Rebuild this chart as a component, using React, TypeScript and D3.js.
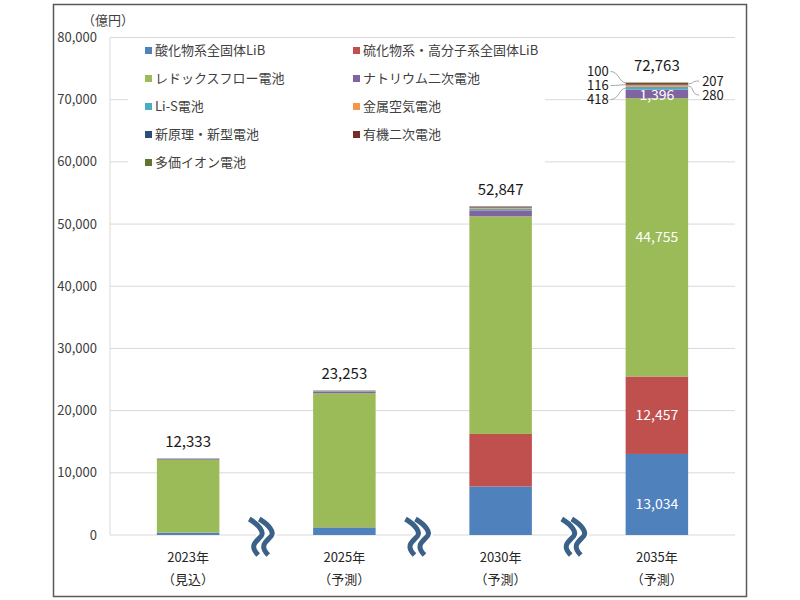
import React from "react";
import * as d3 from "d3";

const categories = ["2023年", "2025年", "2030年", "2035年"];
const subLabels = ["（見込）", "（予測）", "（予測）", "（予測）"];
const totals = [12333, 23253, 52847, 72763];

const seriesNames = [
  "酸化物系全固体LiB",
  "硫化物系・高分子系全固体LiB",
  "レドックスフロー電池",
  "ナトリウム二次電池",
  "Li-S電池",
  "金属空気電池",
  "新原理・新型電池",
  "有機二次電池",
  "多価イオン電池",
];
const oxide = [380, 1200, 7800, 13034];
const sulfide = [0, 50, 8450, 12457];
const redox = [11680, 21550, 35000, 44755];
const sodium = [120, 280, 950, 1396];
const lis = [70, 80, 250, 418];
const metalAir = [50, 50, 170, 280];
const newType = [10, 13, 80, 116];
const organic = [15, 20, 100, 207];
const multivalent = [8, 10, 47, 100];
const seriesValues = [oxide, sulfide, redox, sodium, lis, metalAir, newType, organic, multivalent];
const colors = ["#4F81BD", "#C0504D", "#9BBB59", "#8064A2", "#4BACC6", "#F79646", "#2C4D75", "#772C2A", "#5F7530"];
const yTicks = [0, 10000, 20000, 30000, 40000, 50000, 60000, 70000, 80000];

const FONT = "'Noto Sans CJK JP', 'Noto Sans', sans-serif";

export default function App() {
  const x = d3.scaleBand<string>().domain(categories).range([110, 735]).paddingInner(0.6).paddingOuter(0.3);
  const y = d3.scaleLinear().domain([0, 80000]).range([535, 37.5]);
  const fmt = d3.format(",");

  const rows = categories.map((c, i) => {
    const r: any = { cat: c };
    seriesNames.forEach((s, k) => (r[s] = seriesValues[k][i]));
    return r;
  });
  const stacked = d3.stack<any>().keys(seriesNames)(rows);
  const bw = x.bandwidth();

  const last = categories.length - 1;
  const lastX = x(categories[last])!;
  const sideLabels = [
    { k: 4, side: "L", ly: 99.5 },
    { k: 5, side: "R", ly: 95 },
    { k: 6, side: "L", ly: 85.5 },
    { k: 7, side: "R", ly: 81 },
    { k: 8, side: "L", ly: 71.5 },
  ];

  const chevron = (cx: number, cy: number) => {
    const one = (ox: number) =>
      `M${ox - 8},${cy - 18} C${ox + 2},${cy - 12} ${ox + 7},${cy - 5} ${ox + 4},${cy - 1} C${ox},${cy + 4} ${ox - 9},${cy + 8} ${ox + 1},${cy + 18}`;
    return (
      <g>
        <path d={one(cx - 5)} fill="none" stroke="#fff" strokeWidth={9} />
        <path d={one(cx + 5)} fill="none" stroke="#fff" strokeWidth={9} />
        <path d={one(cx - 5)} fill="none" stroke="#3B6189" strokeWidth={5} />
        <path d={one(cx + 5)} fill="none" stroke="#3B6189" strokeWidth={5} />
      </g>
    );
  };

  return (
    <svg width={800} height={600} style={{ position: "absolute", left: 0, top: 0, background: "#fff" }} fontFamily={FONT}>
      <rect x={0} y={0} width={800} height={600} fill="#fff" />
      <rect x={53.5} y={4.5} width={693} height={592} fill="#fff" stroke="#595959" strokeWidth={1.5} />

      {yTicks.map((t) => (
        <line key={t} x1={110} x2={735} y1={y(t)} y2={y(t)} stroke="#D9D9D9" strokeWidth={1} />
      ))}
      <line x1={110} x2={110} y1={y(80000)} y2={y(0)} stroke="#D9D9D9" strokeWidth={1} />
      {yTicks.map((t) => (
        <text key={t} x={97} y={y(t)} dy="0.35em" textAnchor="end" fontSize={13} fill="#404040">
          {fmt(t)}
        </text>
      ))}
      <text x={108} y={20} dy="0.35em" textAnchor="middle" fontSize={13} fill="#404040">
        （億円）
      </text>

      <rect x={128} y={40} width={417} height={132} fill="#fff" />
      {seriesNames.map((s, k) => {
        const col = k % 2;
        const row = Math.floor(k / 2);
        const lx = col === 0 ? 145 : 353;
        const ly = 50.5 + row * 28;
        return (
          <g key={s}>
            <rect x={lx} y={ly - 3.5} width={7} height={7} fill={colors[k]} />
            <text x={lx + 10} y={ly} dy="0.35em" fontSize={13} fill="#404040">
              {s}
            </text>
          </g>
        );
      })}

      {stacked.map((layer, k) => (
        <g key={k} fill={colors[k]}>
          {layer.map((d, i) => (
            <rect key={i} x={x(categories[i])} width={bw} y={y(d[1])} height={Math.max(0, y(d[0]) - y(d[1]))} />
          ))}
        </g>
      ))}

      {totals.map((t, i) => (
        <text key={i} x={x(categories[i])! + bw / 2} y={y(t) - 17} dy="0.35em" textAnchor="middle" fontSize={15} fill="#1a1a1a">
          {fmt(t)}
        </text>
      ))}

      {[0, 1, 2, 3].map((k) => {
        const d = stacked[k][last];
        const cy = (y(d[0]) + y(d[1])) / 2 + (k === 0 ? 10 : k === 3 ? 1 : 0);
        return (
          <text key={k} x={lastX + bw / 2} y={cy} dy="0.35em" textAnchor="middle" fontSize={14} fill="#fff">
            {fmt(seriesValues[k][last])}
          </text>
        );
      })}

      {sideLabels.map(({ k, side, ly }) => {
        const d = stacked[k][last];
        const sy = (y(d[0]) + y(d[1])) / 2;
        const isL = side === "L";
        const ex = isL ? lastX : lastX + bw;
        const tx = isL ? lastX - 17 : lastX + bw + 14;
        const lx0 = isL ? tx + 2 : tx - 3;
        const path = isL
          ? `M${lx0},${ly} C${lx0 + 8},${ly} ${ex - 6},${sy} ${ex},${sy}`
          : `M${lx0},${ly} C${lx0 - 8},${ly} ${ex + 6},${sy} ${ex},${sy}`;
        return (
          <g key={k}>
            <path d={path} fill="none" stroke="#A6A6A6" strokeWidth={1} />
            <text x={tx} y={ly} dy="0.35em" textAnchor={isL ? "end" : "start"} fontSize={13} fill="#1a1a1a">
              {fmt(seriesValues[k][last])}
            </text>
          </g>
        );
      })}

      {categories.map((c, i) => (
        <g key={c}>
          <text x={x(c)! + bw / 2} y={557} dy="0.35em" textAnchor="middle" fontSize={13} fill="#262626">
            {c}
          </text>
          <text x={x(c)! + bw / 2} y={579} dy="0.35em" textAnchor="middle" fontSize={13} fill="#262626">
            {subLabels[i]}
          </text>
        </g>
      ))}

      {categories.slice(1).map((c, i) => {
        const a = x(categories[i])! + bw / 2;
        const b = x(c)! + bw / 2;
        return <g key={c}>{chevron((a + b) / 2 - 4, 537)}</g>;
      })}
    </svg>
  );
}
